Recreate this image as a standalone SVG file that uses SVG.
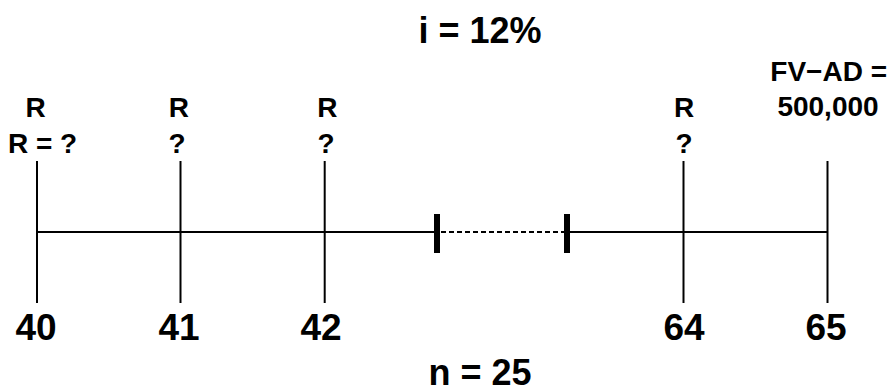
<svg xmlns="http://www.w3.org/2000/svg" width="890" height="392" viewBox="0 0 890 392">
<style>
.t{font-family:"Liberation Sans",Arial,sans-serif;font-weight:bold;fill:#000}
.lbl{font-size:28px}
.big{font-size:36px;text-anchor:middle}
.num{font-size:37px;text-anchor:middle}
.ln{stroke:#000;stroke-width:2;fill:none}
.tick{stroke:#000;stroke-width:6;fill:none}
.dash{stroke:#000;stroke-width:2;stroke-dasharray:5 3;fill:none}
</style>
<rect width="890" height="392" fill="#fff"/>
<g id="connectors">
<line class="ln" x1="37" y1="232" x2="437" y2="232"/>
<line class="dash" x1="441" y1="232" x2="564" y2="232"/>
<line class="ln" x1="567" y1="232" x2="828" y2="232"/>
<line class="tick" x1="437" y1="214" x2="437" y2="253"/>
<line class="tick" x1="567" y1="214" x2="567" y2="253"/>
</g>
<g id="title"><text class="t big" x="480" y="42.5">i = 12%</text></g>
<g id="node-40">
<line class="ln" x1="37" y1="161" x2="37" y2="303"/>
<text class="t lbl" x="35.5" y="116.5" text-anchor="middle">R</text>
<text class="t lbl" x="42.5" y="153" text-anchor="middle">R = ?</text>
<text class="t num" x="36" y="340">40</text>
</g>
<g id="node-41">
<line class="ln" x1="180.5" y1="161" x2="180.5" y2="303"/>
<text class="t lbl" x="168.7" y="116.5">R</text>
<text class="t lbl" x="168.5" y="153">?</text>
<text class="t num" x="179" y="340">41</text>
</g>
<g id="node-42">
<line class="ln" x1="324.7" y1="161" x2="324.7" y2="303"/>
<text class="t lbl" x="317.3" y="116.5">R</text>
<text class="t lbl" x="317.5" y="153">?</text>
<text class="t num" x="321" y="340">42</text>
</g>
<g id="node-64">
<line class="ln" x1="683.5" y1="161" x2="683.5" y2="303"/>
<text class="t lbl" x="674" y="116.5">R</text>
<text class="t lbl" x="675.5" y="153">?</text>
<text class="t num" x="684" y="340">64</text>
</g>
<g id="node-65">
<line class="ln" x1="827.5" y1="161" x2="827.5" y2="303"/>
<text class="t lbl" x="828.7" y="81" text-anchor="middle">FV−AD =</text>
<text class="t lbl" x="828" y="116" text-anchor="middle">500,000</text>
<text class="t num" x="826" y="340">65</text>
</g>
<g id="n-label"><text class="t big" x="480" y="384.5">n = 25</text></g>
</svg>
